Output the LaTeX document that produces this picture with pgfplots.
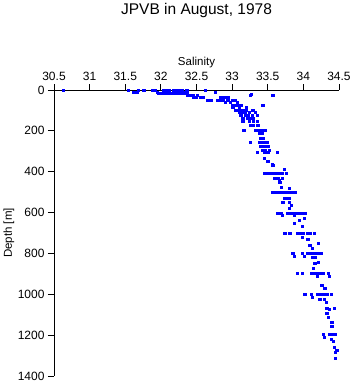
\documentclass[border=0pt]{standalone}
\usepackage{fontspec}
\setmainfont{Liberation Sans}
\usepackage{pgfplots}
\pgfplotsset{compat=1.18}
\usepackage{pgfplotstable}
\pgfplotstableread{
S D
30.63 0
31.54 0
31.68 0
31.76 0
31.88 0
31.92 0
32.03 0
32.07 0
32.12 0
32.17 0
32.22 0
32.27 0
32.30 0
32.36 0
32.62 0
32.76 10
31.61 10
31.66 10
31.95 10
32.10 10
32.25 10
32.33 10
31.97 15
32.00 15
32.04 15
32.08 15
32.12 15
32.16 15
32.20 15
32.24 15
32.28 15
32.32 15
32.36 15
32.37 24
32.41 24
32.45 24
32.51 24
33.25 24
33.27 20
33.57 24
32.45 34
32.50 34
32.55 34
32.59 34
32.83 34
32.87 34
32.91 34
32.94 34
32.66 49
32.70 49
32.79 49
32.83 49
32.87 49
32.94 49
33.00 49
33.04 49
32.90 59
32.97 59
33.07 59
33.00 73
33.04 73
33.08 73
33.12 73
33.43 73
33.01 83
33.10 83
33.20 83
33.05 98
33.10 98
33.15 98
33.20 98
33.29 98
33.10 108
33.14 108
33.18 108
33.24 108
33.32 108
33.12 122
33.18 122
33.22 122
33.28 122
33.35 122
33.15 137
33.21 137
33.25 137
33.30 137
33.15 152
33.24 152
33.30 152
33.35 152
33.25 171
33.29 171
33.36 171
33.16 196
33.32 196
33.36 196
33.40 196
33.46 196
33.38 210
33.42 210
33.40 235
33.44 235
33.25 255
33.38 255
33.42 255
33.46 255
33.49 255
33.40 275
33.45 275
33.50 275
33.42 294
33.46 294
33.52 294
33.35 303
33.46 303
33.50 303
33.63 303
33.45 333
33.50 348
33.56 362
33.57 367
33.73 387
33.46 406
33.50 406
33.54 406
33.58 406
33.62 406
33.66 406
33.70 406
33.76 406
33.60 431
33.64 431
33.70 431
33.66 441
33.67 450
33.69 475
33.80 480
33.56 499
33.60 499
33.64 499
33.68 499
33.72 499
33.76 499
33.80 499
33.84 499
33.88 499
33.74 529
33.78 529
33.80 529
33.71 548
33.80 548
33.83 563
33.80 578
33.64 602
33.68 602
33.77 602
33.80 602
33.84 602
33.88 602
33.92 602
33.97 602
34.02 602
33.70 612
33.87 612
34.01 627
33.94 636
33.87 651
33.98 666
33.74 700
33.81 700
33.92 700
33.96 700
34.00 700
34.05 700
34.09 700
34.15 700
33.98 720
34.06 729
34.21 749
34.09 759
34.12 773
33.84 798
33.86 798
33.98 798
34.05 798
34.09 798
34.13 798
34.17 798
34.21 798
34.25 798
33.87 813
34.01 813
34.12 817
34.16 817
34.21 842
34.16 847
34.14 871
33.91 896
33.98 896
34.11 896
34.16 896
34.20 896
34.24 896
34.28 896
34.35 896
34.19 910
34.36 910
34.26 955
34.30 969
34.02 999
34.11 999
34.20 999
34.24 999
34.28 999
34.33 999
34.39 999
34.12 1013
34.23 1023
34.29 1023
34.32 1038
34.33 1067
34.43 1067
34.36 1072
34.33 1092
34.35 1111
34.40 1136
34.40 1155
34.28 1194
34.36 1194
34.40 1194
34.44 1194
34.29 1209
34.39 1219
34.42 1229
34.43 1258
34.47 1273
34.45 1283
34.45 1312
}\ctddata
\begin{document}
\begin{tikzpicture}
\begin{axis}[
  at={(0pt,0pt)}, anchor=south west,
  scale only axis, width=285pt, height=286pt,
  xmin=30.5, xmax=34.5, ymin=0, ymax=1400,
  y dir=reverse,
  axis x line*=top, axis y line*=left,
  axis line style={-, line width=0.8pt},
  xtick={30.5,31,...,34.5},
  xticklabels={30.5,31,31.5,32,32.5,33,33.5,34,34.5},
  ytick={0,200,...,1400},
  yticklabel style={/pgf/number format/1000 sep={}},
  tick align=outside,
  major tick length=6pt,
  tick style={black, line width=0.8pt},
  /pgf/number format/assume math mode=true,
  /pgf/number format/1000 sep={},
  ticklabel style={font=\fontsize{12}{14}\selectfont},
  clip=false,
]
\addplot[only marks, mark=square*, mark size=1.2pt, color={rgb,255:red,0;green,0;blue,255}, mark options={draw=none}] table[x=S, y=D] {\ctddata};
\end{axis}
\node[anchor=base, font=\fontsize{15.5}{18}\selectfont] at (142.5pt,362pt) {JPVB in August, 1978};
\node[anchor=base, font=\fontsize{11.5}{14}\selectfont] at (142.5pt,311pt) {Salinity};
\node[anchor=north, rotate=90, font=\fontsize{11.5}{14}\selectfont] at (-54pt,143pt) {Depth [m]};
\pgfresetboundingbox
\path (-54pt,-8pt) rectangle (299pt,376pt);
\end{tikzpicture}
\end{document}
